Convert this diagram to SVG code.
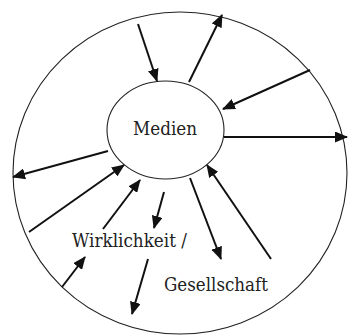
<svg xmlns="http://www.w3.org/2000/svg" width="348" height="336" viewBox="0 0 348 336">
<style>
.ring{fill:none;stroke:#222;stroke-width:1.1}
.lbl{font-family:"DejaVu Serif","Liberation Serif",serif;font-size:18px;fill:#222}
.con line{stroke:#111;stroke-width:2}
</style>
<defs>
<marker id="ah" markerUnits="userSpaceOnUse" markerWidth="13" markerHeight="11" refX="12" refY="5.5" orient="auto">
<path d="M0,0 L13,5.5 L0,11 Z" fill="#111"/>
</marker>
</defs>
<rect width="348" height="336" fill="#fff"/>
<g id="outer">
<ellipse class="ring" cx="180" cy="173" rx="167" ry="161"/>
</g>
<g id="medien">
<ellipse class="ring" cx="165.5" cy="130" rx="58.5" ry="49" stroke-width="1.3"/>
<text class="lbl" x="165" y="135" text-anchor="middle" textLength="64" lengthAdjust="spacingAndGlyphs">Medien</text>
</g>
<g id="wirklichkeit">
<text class="lbl" x="72" y="247" textLength="115" lengthAdjust="spacingAndGlyphs">Wirklichkeit /</text>
</g>
<g id="gesellschaft">
<text class="lbl" x="164" y="291" textLength="104" lengthAdjust="spacingAndGlyphs">Gesellschaft</text>
</g>
<g id="connectors" class="con">
<line x1="138" y1="24" x2="157" y2="81" marker-end="url(#ah)"/>
<line x1="189" y1="82" x2="222" y2="15" marker-end="url(#ah)"/>
<line x1="310" y1="70" x2="223" y2="109" marker-end="url(#ah)"/>
<line x1="224" y1="137" x2="347" y2="137" marker-end="url(#ah)"/>
<line x1="108" y1="151" x2="13" y2="177" marker-end="url(#ah)"/>
<line x1="29" y1="232" x2="124" y2="165" marker-end="url(#ah)"/>
<line x1="103" y1="229" x2="140" y2="180" marker-end="url(#ah)"/>
<line x1="164" y1="192" x2="154" y2="228" marker-end="url(#ah)"/>
<line x1="190" y1="178" x2="221" y2="259" marker-end="url(#ah)"/>
<line x1="271" y1="259" x2="207" y2="165" marker-end="url(#ah)"/>
<line x1="62" y1="287" x2="85" y2="257" marker-end="url(#ah)"/>
<line x1="148" y1="259" x2="132" y2="314" marker-end="url(#ah)"/>
</g>
</svg>
